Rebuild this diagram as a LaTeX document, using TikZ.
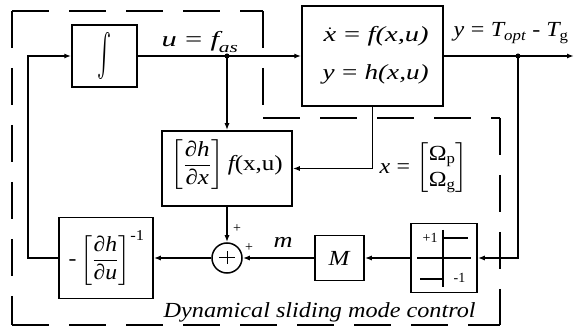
\documentclass[tikz,border=0pt]{standalone}
\usepackage{amsmath}
\usepackage{fontspec}
\setmainfont{Liberation Serif}
\usetikzlibrary{arrows.meta}
\newcommand{\fitw}[2]{\resizebox{#1}{\height}{#2}}
\newcommand{\eq}{\mathrel{\text{=}}}
\begin{document}
\begin{tikzpicture}[x=1pt,y=-1pt,line width=1.4pt,
  blk/.style={draw,line width=1.5pt,inner sep=0pt},
  conn/.style={-{Latex[length=7pt,width=5pt]}},
  bnd/.style={line width=1.4pt,dash pattern=on 37pt off 20pt},
  lbl/.style={inner sep=0pt,font=\fontsize{21.5}{25}\selectfont},
  sml/.style={inner sep=0pt,font=\fontsize{14}{16}\selectfont},
  thin/.style={line width=1.3pt}]
\fill[white] (0,0) rectangle (574,331);
\useasboundingbox (0,0) rectangle (574,331);
% boundary
\draw[bnd] (12,11) -- (263,11);
\draw[bnd] (263,11) -- (263,118);
\draw[bnd] (263,118) -- (500,118);
\draw[bnd] (500,118) -- (500,325);
\draw[bnd] (12,325) -- (500,325);
\draw[bnd] (12,11) -- (12,325);
% blocks
\node[blk,minimum width=65pt,minimum height=62pt] (integ) at (104.5,56) {};
\node[blk,minimum width=141pt,minimum height=100pt] (plant) at (372.5,56) {};
\node[blk,minimum width=130pt,minimum height=75pt] (dhdx) at (227,168.5) {};
\node[blk,circle,minimum size=30pt] (sum) at (227,258) {};
\node[blk,minimum width=94pt,minimum height=81pt] (dhdu) at (106,258) {};
\node[blk,minimum width=49pt,minimum height=45pt] (Mbox) at (339.5,258) {};
\node[blk,minimum width=66pt,minimum height=69pt] (sign) at (444,258) {};
% coordinates
\coordinate (j1) at (227,56);
\coordinate (j2) at (518,56);
\coordinate (out) at (574,56);
\coordinate (fbc) at (28,258);
% connectors
\draw[conn] (integ.east) -- (plant.west);
\draw[conn] (j1) -- (dhdx.north);
\draw[conn] (plant.east) -- (out);
\draw[conn] (j2) |- (sign.east);
\draw[conn] (plant.south) |- (dhdx.east);
\draw[conn] (dhdx.south) -- (sum.north);
\draw[conn] (sign.west) -- (Mbox.east);
\draw[conn] (Mbox.west) -- (sum.east);
\draw[conn] (sum.west) -- (dhdu.east);
\draw[conn] (dhdu.west) -- (fbc) |- (integ.west);
\fill (j1) circle (2.5pt);
\fill (j2) circle (2.5pt);
% sum plus
\draw[line width=1pt] (219,258) -- (235,258) (227,251.5) -- (227,264.5);
% sign symbol
\draw[thin] (443,230) -- (443,287);
\draw[thin] (417,258) -- (471,258);
\draw[thin] (443,238) -- (468,238);
\draw[thin] (420,279) -- (443,279);
% texts
\node[inner sep=0pt] (intsym) at (integ) {\resizebox*{14pt}{47pt}{$\int$}};
\node[lbl,anchor=base west] (ulab) at (161,47) {\fitw{77pt}{$\textit{u}\eq\textit{f}_{\textit{as}}$}};
\node[lbl,anchor=base west] (ylab) at (453,37) {\fitw{115pt}{$\textit{y}\eq\textit{T}_{\textit{opt}}\text{ - }\textit{T}_{\text{g}}$}};
\node[lbl,anchor=base west] (pl1) at (323,42) {\fitw{105pt}{$\dot{\textit{x}}\eq\textit{f(x,u)}$}};
\node[lbl,anchor=base west] (pl2) at (322,80) {\fitw{106pt}{$\textit{y}\eq\textit{h(x,u)}$}};
\node[lbl,anchor=west] (dxlab) at (170,165) {\fitw{112pt}{$\left[\dfrac{\textit{∂h}}{\textit{∂x}}\right]\textit{f}\text{(x,u)}$}};
\node[lbl,anchor=west] (dulab) at (68,258) {\fitw{76pt}{$\text{-}\left[\dfrac{\textit{∂h}}{\textit{∂u}}\right]^{\text{-1}}$}};
\node[lbl,anchor=west] (xlab) at (379,168) {\renewcommand{\arraystretch}{1.05}\fitw{88pt}{$\textit{x}\eq\left[\begin{array}{@{}c@{}}\text{Ω}_{\text{p}}\\ \text{Ω}_{\text{g}}\end{array}\right]$}};
\node[lbl,anchor=base west] (dsm) at (163,318) {\fitw{312pt}{\textit{Dynamical sliding mode control}}};
\node[lbl] (Mlab) at (Mbox) {\fitw{22pt}{\textit{M}}};
\node[lbl,anchor=base west] (mlab) at (273,248) {\fitw{19pt}{\textit{m}}};
\node[sml,anchor=base west] (p1) at (422,243) {+1};
\node[sml,anchor=base west] (m1) at (453,283) {-1};
\node[sml] (pa) at (237,229) {+};
\node[sml] (pb) at (249,248) {+};
\end{tikzpicture}
\end{document}
